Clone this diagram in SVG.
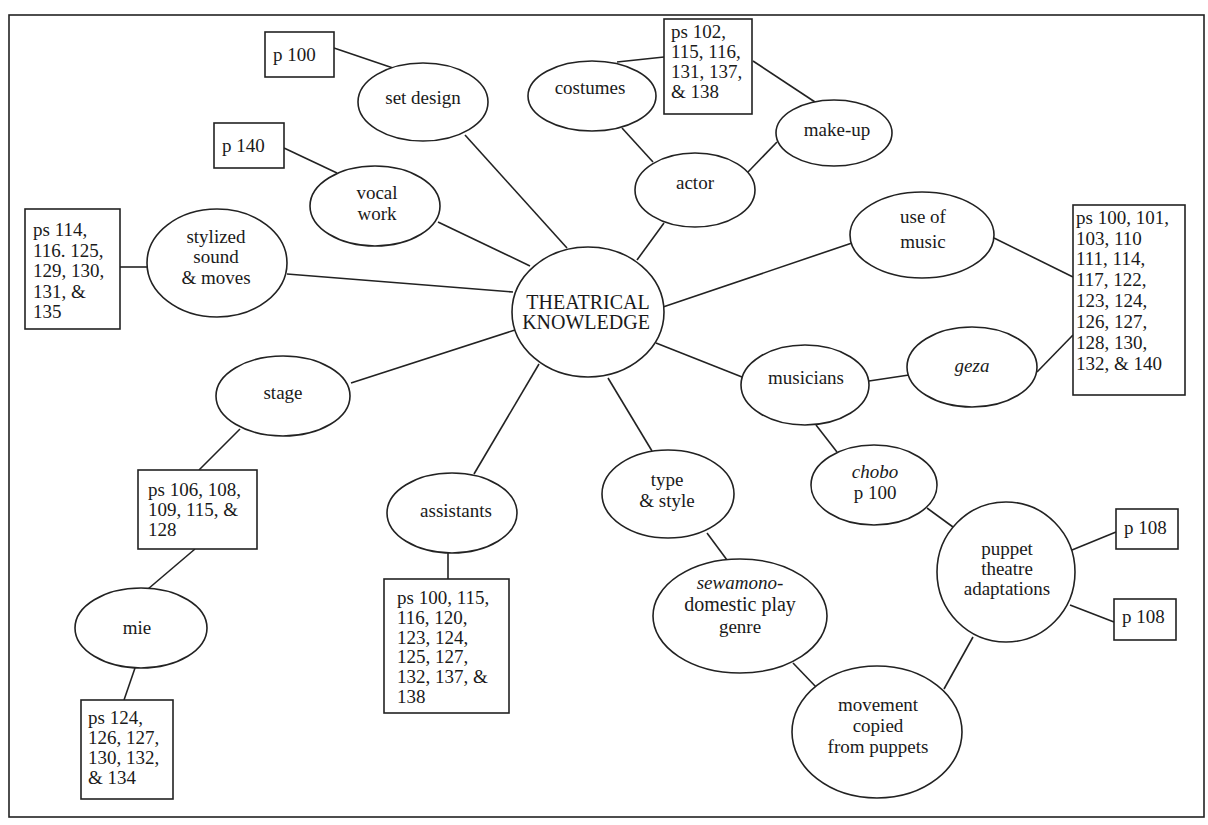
<svg xmlns="http://www.w3.org/2000/svg" width="1208" height="825" viewBox="0 0 1208 825">
<style>
.n{fill:#fff;stroke:#222;stroke-width:1.6}
.c line{stroke:#222;stroke-width:1.6}
text{font-family:"Liberation Serif","Times New Roman",serif;font-size:19px;fill:#1a1a1a}
.m{text-anchor:middle}
.i{font-style:italic}
</style>
<rect x="0" y="0" width="1208" height="825" fill="#fff"/>
<rect x="9" y="15" width="1195" height="802" fill="none" stroke="#222" stroke-width="1.6"/>
<g class="c" id="connectors">
<line x1="334" y1="48" x2="393" y2="68"/>
<line x1="465" y1="135" x2="567" y2="248"/>
<line x1="284" y1="148" x2="337" y2="173"/>
<line x1="438" y1="222" x2="530" y2="266"/>
<line x1="120" y1="267" x2="147" y2="267"/>
<line x1="287" y1="274" x2="513" y2="292"/>
<line x1="617" y1="62" x2="664" y2="57"/>
<line x1="622" y1="128" x2="653" y2="162"/>
<line x1="753" y1="61" x2="815" y2="102"/>
<line x1="748" y1="172" x2="777" y2="142"/>
<line x1="664" y1="223" x2="637" y2="260"/>
<line x1="663" y1="307" x2="852" y2="243"/>
<line x1="994" y1="238" x2="1073" y2="277"/>
<line x1="1037" y1="372" x2="1073" y2="335"/>
<line x1="515" y1="330" x2="351" y2="383"/>
<line x1="240" y1="429" x2="199" y2="470"/>
<line x1="195" y1="549" x2="148" y2="589"/>
<line x1="135" y1="668" x2="124" y2="700"/>
<line x1="539" y1="364" x2="474" y2="474"/>
<line x1="448" y1="553" x2="448" y2="579"/>
<line x1="608" y1="378" x2="652" y2="451"/>
<line x1="656" y1="343" x2="742" y2="377"/>
<line x1="869" y1="381" x2="909" y2="375"/>
<line x1="816" y1="425" x2="837" y2="452"/>
<line x1="927" y1="508" x2="953" y2="527"/>
<line x1="1072" y1="550" x2="1116" y2="532"/>
<line x1="1070" y1="605" x2="1114" y2="622"/>
<line x1="973" y1="637" x2="944" y2="689"/>
<line x1="707" y1="533" x2="727" y2="560"/>
<line x1="793" y1="663" x2="817" y2="688"/>
</g>
<g id="p100-set"><rect class="n" x="265" y="32" width="69" height="45"/><text x="273" y="61">p 100</text></g>
<g id="set-design"><ellipse class="n" cx="423" cy="102" rx="65" ry="39"/><text class="m" x="423" y="104">set design</text></g>
<g id="p140"><rect class="n" x="214" y="123" width="70" height="45"/><text x="222" y="152">p 140</text></g>
<g id="vocal-work"><ellipse class="n" cx="375" cy="206" rx="65" ry="40"/><text class="m" x="377" y="199">vocal</text><text class="m" x="377" y="220">work</text></g>
<g id="stylized"><ellipse class="n" cx="217" cy="263" rx="70" ry="54"/><text class="m" x="216" y="243">stylized</text><text class="m" x="216" y="263">sound</text><text class="m" x="216" y="284">&amp; moves</text></g>
<g id="ps114"><rect class="n" x="25" y="209" width="95" height="120"/><text x="33" y="236">ps 114,</text><text x="33" y="257">116. 125,</text><text x="33" y="277">129, 130,</text><text x="33" y="298">131, &amp;</text><text x="33" y="318">135</text></g>
<g id="costumes"><ellipse class="n" cx="592" cy="96" rx="64" ry="35"/><text class="m" x="590" y="94">costumes</text></g>
<g id="ps102"><rect class="n" x="664" y="19" width="88" height="95"/><text x="671" y="38">ps 102,</text><text x="671" y="58">115, 116,</text><text x="671" y="78">131, 137,</text><text x="671" y="98">&amp; 138</text></g>
<g id="actor"><ellipse class="n" cx="695" cy="190" rx="60" ry="37"/><text class="m" x="695" y="189">actor</text></g>
<g id="make-up"><ellipse class="n" cx="834" cy="133" rx="58" ry="33"/><text class="m" x="837" y="136">make-up</text></g>
<g id="use-of-music"><ellipse class="n" cx="922" cy="235" rx="72" ry="43"/><text class="m" x="923" y="223">use of</text><text class="m" x="923" y="248">music</text></g>
<g id="ps100-music"><rect class="n" x="1073" y="205" width="112" height="190"/><text x="1076" y="224">ps 100, 101,</text><text x="1076" y="245">103, 110</text><text x="1076" y="265">111, 114,</text><text x="1076" y="286">117, 122,</text><text x="1076" y="307">123, 124,</text><text x="1076" y="328">126, 127,</text><text x="1076" y="349">128, 130,</text><text x="1076" y="370">132, &amp; 140</text></g>
<g id="theatrical-knowledge"><ellipse class="n" cx="588" cy="312" rx="76" ry="65"/><text class="m" x="588" y="309" style="font-size:20px">THEATRICAL</text><text class="m" x="586" y="329" style="font-size:20px">KNOWLEDGE</text></g>
<g id="stage"><ellipse class="n" cx="283" cy="396" rx="67" ry="40"/><text class="m" x="283" y="399">stage</text></g>
<g id="ps106"><rect class="n" x="138" y="470" width="119" height="79"/><text x="148" y="496">ps 106, 108,</text><text x="148" y="516">109, 115, &amp;</text><text x="148" y="536">128</text></g>
<g id="mie"><ellipse class="n" cx="141" cy="628" rx="66" ry="40"/><text class="m" x="137" y="634">mie</text></g>
<g id="ps124"><rect class="n" x="81" y="700" width="92" height="99"/><text x="88" y="724">ps 124,</text><text x="88" y="744">126, 127,</text><text x="88" y="764">130, 132,</text><text x="88" y="784">&amp; 134</text></g>
<g id="assistants"><ellipse class="n" cx="452" cy="513" rx="65" ry="40"/><text class="m" x="456" y="517">assistants</text></g>
<g id="ps100-assist"><rect class="n" x="384" y="579" width="125" height="134"/><text x="397" y="604">ps 100, 115,</text><text x="397" y="624">116, 120,</text><text x="397" y="644">123, 124,</text><text x="397" y="663">125, 127,</text><text x="397" y="683">132, 137, &amp;</text><text x="397" y="703">138</text></g>
<g id="type-style"><ellipse class="n" cx="668" cy="494" rx="66" ry="44"/><text class="m" x="667" y="486">type</text><text class="m" x="667" y="507">&amp; style</text></g>
<g id="musicians"><ellipse class="n" cx="805" cy="385" rx="64" ry="40"/><text class="m" x="806" y="384">musicians</text></g>
<g id="geza"><ellipse class="n" cx="972" cy="367" rx="65" ry="40"/><text class="m i" x="972" y="372">geza</text></g>
<g id="chobo"><ellipse class="n" cx="874" cy="485" rx="63" ry="40"/><text class="m i" x="875" y="478">chobo</text><text class="m" x="875" y="499">p 100</text></g>
<g id="puppet-theatre"><ellipse class="n" cx="1006" cy="572" rx="69" ry="70"/><text class="m" x="1007" y="555">puppet</text><text class="m" x="1007" y="575">theatre</text><text class="m" x="1007" y="595">adaptations</text></g>
<g id="p108a"><rect class="n" x="1116" y="509" width="62" height="40"/><text x="1124" y="534">p 108</text></g>
<g id="p108b"><rect class="n" x="1114" y="599" width="62" height="41"/><text x="1122" y="623">p 108</text></g>
<g id="sewamono"><ellipse class="n" cx="740" cy="616" rx="87" ry="57"/><text class="m i" x="740" y="589">sewamono-</text><text class="m" x="740" y="611" style="font-size:20px">domestic play</text><text class="m" x="740" y="633">genre</text></g>
<g id="movement"><ellipse class="n" cx="877" cy="732" rx="85" ry="66"/><text class="m" x="878" y="711">movement</text><text class="m" x="878" y="732">copied</text><text class="m" x="878" y="753">from puppets</text></g>
</svg>
